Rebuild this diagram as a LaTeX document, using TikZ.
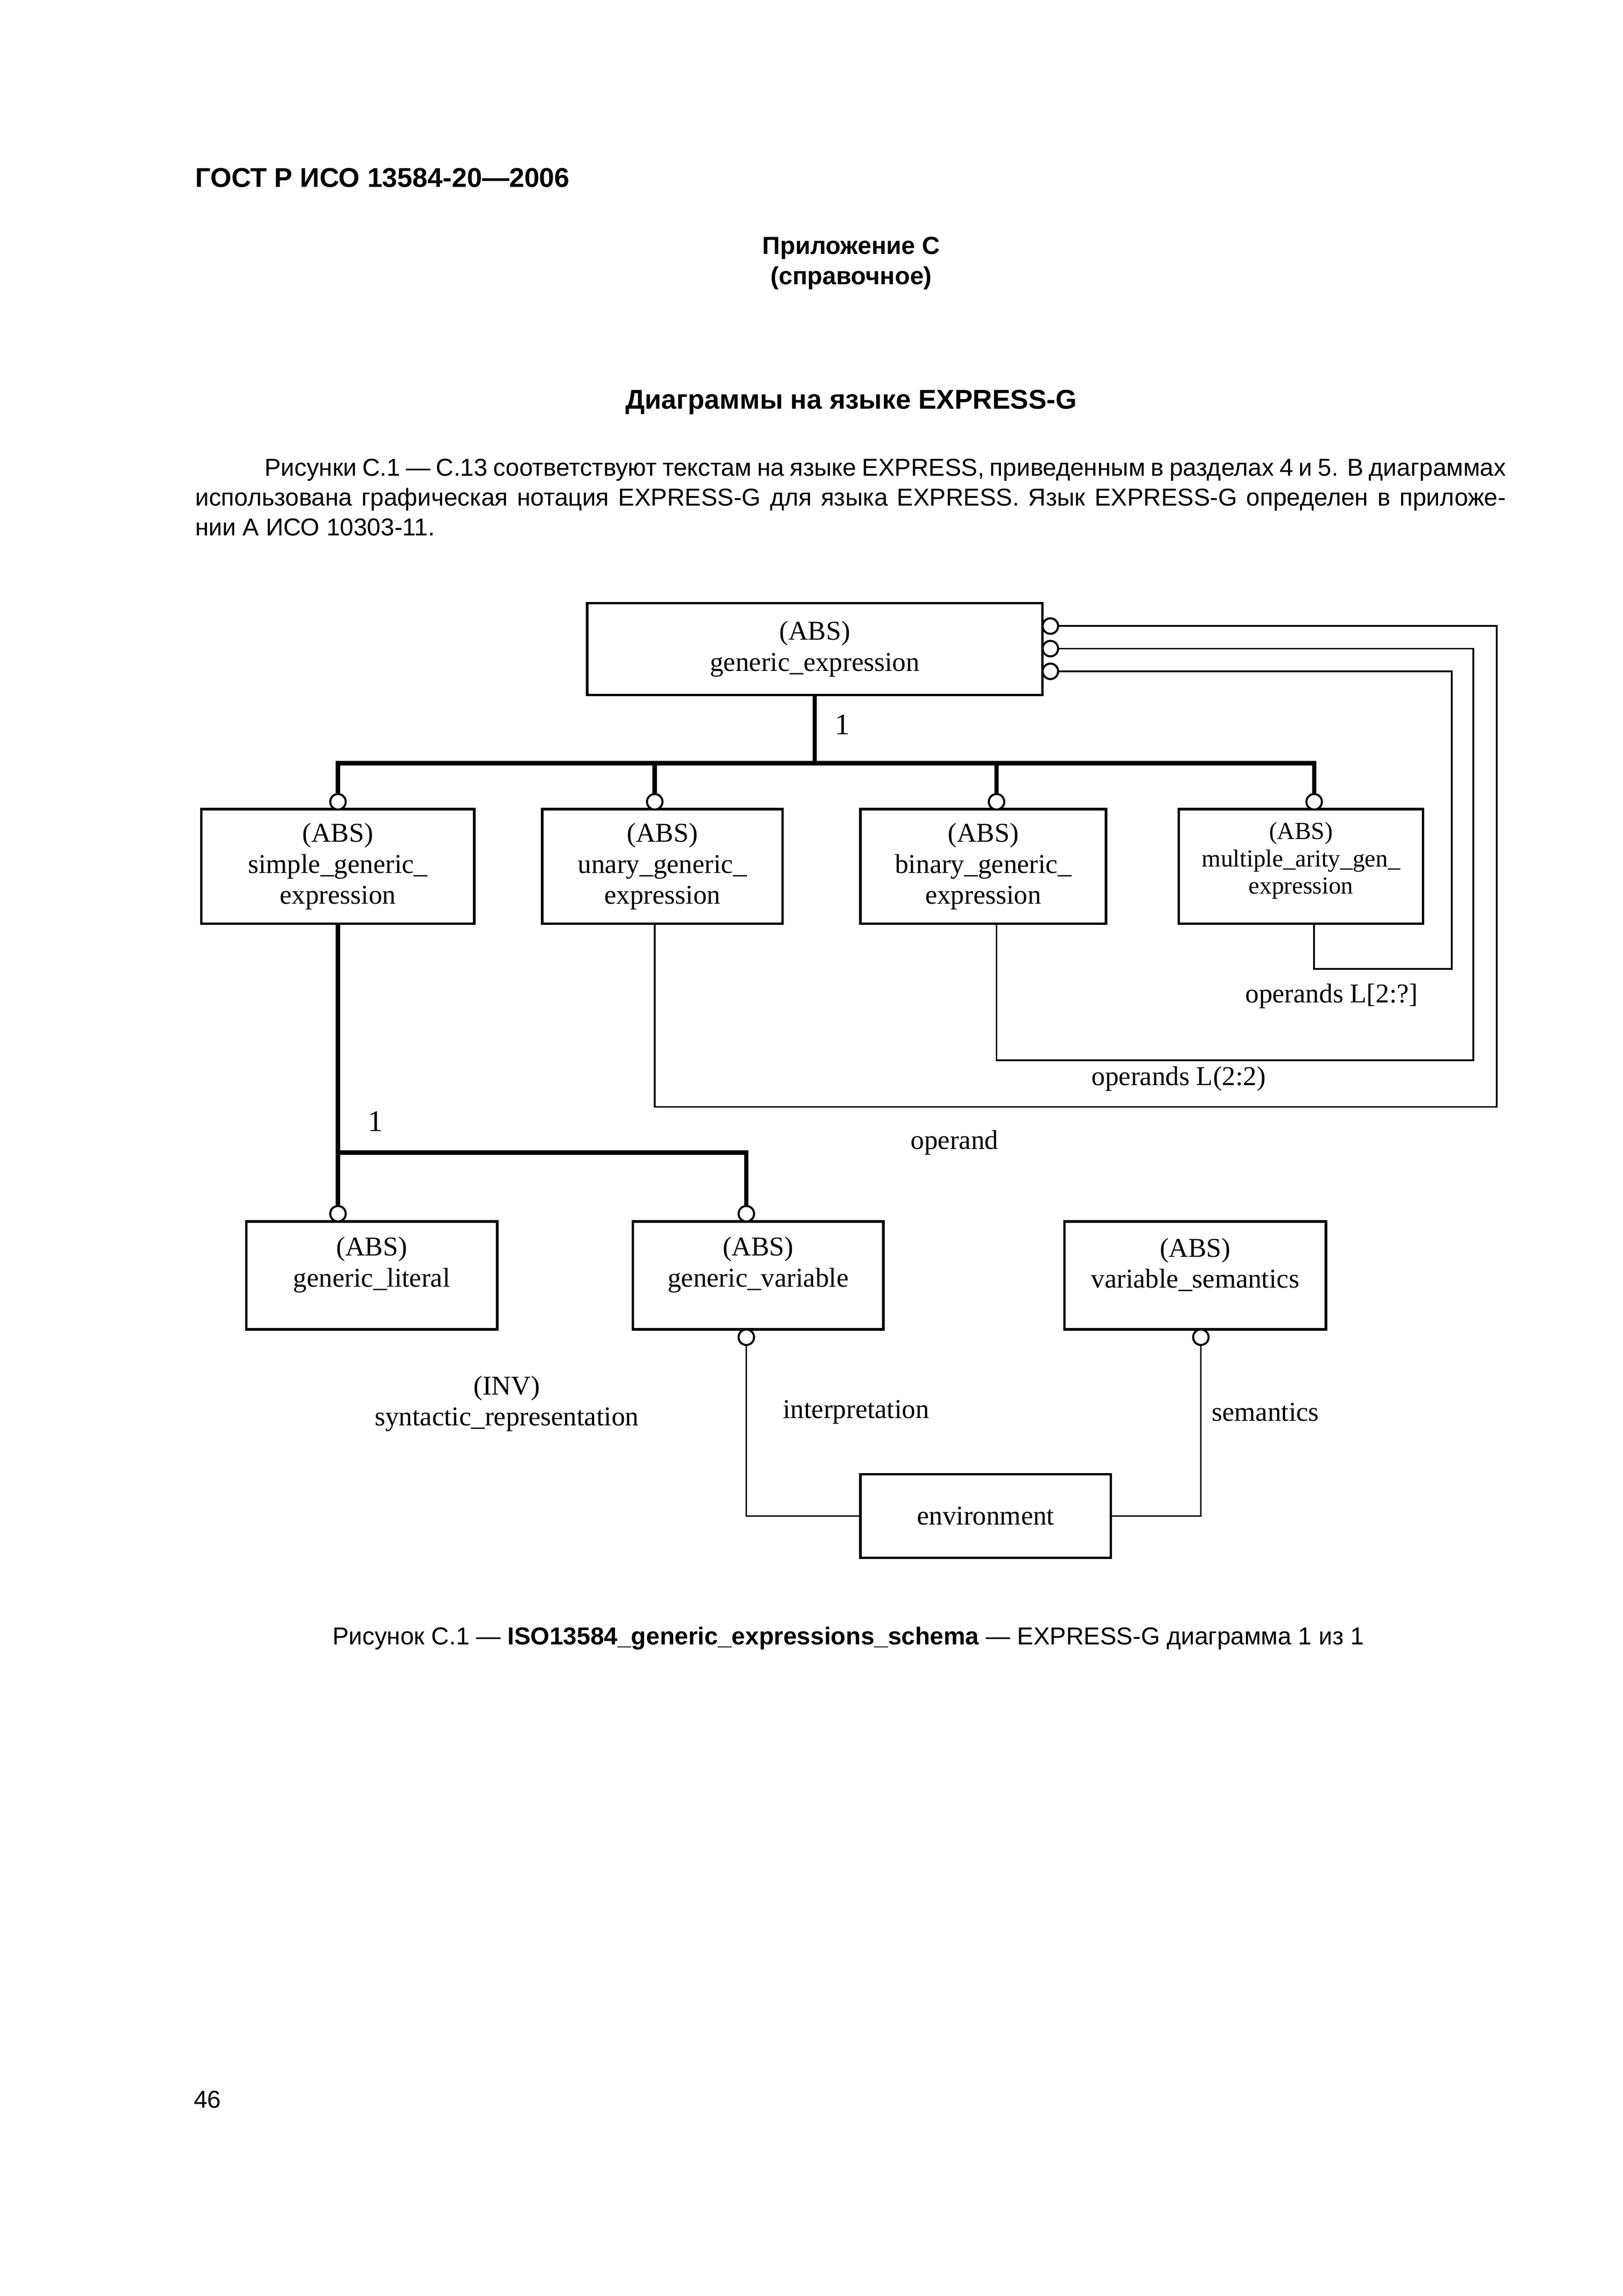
\documentclass[tikz,border=0pt]{standalone}
\usepackage{fontspec}
\setmainfont{Liberation Sans}
\newfontfamily\diag{Liberation Serif}
\newcommand{\upx}{0.0190909cm}
\newcommand{\dfont}{\diag\fontsize{10}{11.4}\selectfont}
\newcommand{\dsmall}{\diag\fontsize{9}{10.1}\selectfont}
\tikzset{
  ent/.style={draw, line width=0.9pt, inner sep=0pt, align=center, font=\dfont},
  circ/.style={circle, draw, line width=0.75pt, fill=white, inner sep=0pt, minimum size={10.5*\upx}},
  thickln/.style={line width=1.6pt, line join=miter},
  thinln/.style={line width=0.65pt, line join=miter},
  lbl/.style={inner sep=0pt, align=center, font=\dfont},
  pagetxt/.style={inner sep=0pt, font=\fontsize{9}{11}\selectfont},
  headtxt/.style={inner sep=0pt, font=\bfseries\fontsize{10}{12}\selectfont},
  subhead/.style={inner sep=0pt, font=\bfseries\fontsize{9.1}{11}\selectfont},
}
\begin{document}
\begin{tikzpicture}[x=0.0190909cm, y=-0.0190909cm]
\path[fill=white] (0,0) rectangle (1100,1556.1);
\useasboundingbox (0,0) rectangle (1100,1556.1);

% page texts
\node[headtxt, anchor=west] (hdr) at (132,120.5) {ГОСТ Р ИСО 13584-20—2006};
\node[subhead] (app) at (577,168) {Приложение С};
\node[subhead] (refr) at (577,188.5) {(справочное)};
\node[headtxt] (ttl) at (577,272.5) {Диаграммы на языке EXPRESS-G};
\node[pagetxt, anchor=north west, text width={888.5*\upx}, align=justify] (para) at (132,310.5)
{\tolerance=9999\hyphenpenalty=10000\exhyphenpenalty=10000\noindent\hspace*{0.897cm}Рисунки С.1 — С.13 соответствуют текстам на языке EXPRESS, приведенным в разделах 4 и 5. В диаграммах\linebreak
использована графическая нотация EXPRESS-G для языка EXPRESS. Язык EXPRESS-G определен в приложе-\linebreak
нии А ИСО 10303-11.};

% entities
\node[ent, minimum width={308.6*\upx}, minimum height={62.3*\upx}] (ge) at (552.3,439.9) {(ABS)\\generic\_expression};
\node[ent, minimum width={185*\upx}, minimum height={77.7*\upx}] (sg) at (229,587.2) {(ABS)\\simple\_generic\_\\expression};
\node[ent, minimum width={163*\upx}, minimum height={77.7*\upx}] (ug) at (449,587.2) {(ABS)\\unary\_generic\_\\expression};
\node[ent, minimum width={166.5*\upx}, minimum height={77.7*\upx}] (bg) at (666.5,587.2) {(ABS)\\binary\_generic\_\\expression};
\node[ent, minimum width={165.6*\upx}, minimum height={77.7*\upx}, font=\dsmall] (mg) at (881.9,587.2) {(ABS)\\multiple\_arity\_gen\_\\expression\\[-4pt]};
\node[ent, minimum width={170*\upx}, minimum height={73.2*\upx}] (gl) at (252,864.4) {};
\node[lbl] (gltxt) at (252,857.2) {(ABS)\\generic\_literal};
\node[ent, minimum width={169.8*\upx}, minimum height={73.2*\upx}] (gv) at (513.9,864.4) {};
\node[lbl] (gvtxt) at (513.9,857.2) {(ABS)\\generic\_variable};
\node[ent, minimum width={177.1*\upx}, minimum height={73.2*\upx}] (vs) at (810.2,864.4) {};
\node[lbl] (vstxt) at (810.2,857.2) {(ABS)\\variable\_semantics};
\node[ent, minimum width={169.8*\upx}, minimum height={56.6*\upx}] (env) at (668.1,1027.5) {environment};

% circles
\node[circ] (gc1) at (712,424.3) {};
\node[circ] (gc2) at (712,439.6) {};
\node[circ] (gc3) at (712,455) {};
\node[circ] (sc) at (229.1,543.4) {};
\node[circ] (uc) at (443.8,543.4) {};
\node[circ] (bc) at (675.5,543.4) {};
\node[circ] (mc) at (890.8,543.4) {};
\node[circ] (lc1) at (229.1,822.6) {};
\node[circ] (lc2) at (505.9,822.6) {};
\node[circ] (gvc) at (505.9,906.3) {};
\node[circ] (vsc) at (814,906.3) {};

% coordinates
\coordinate (bus) at (552.3,517.3);
\coordinate (bus2) at (229.1,781.2);
\coordinate (o1) at (1014.5,750.2);
\coordinate (o2) at (998.6,718.5);
\coordinate (o3) at (984,656.7);

% supertype trees
\draw[thickln] (ge.south) -- (bus);
\draw[thickln] (sc.north) -- (sc |- bus) -- (mc |- bus) -- (mc.north);
\draw[thickln] (uc.north) -- (uc |- bus);
\draw[thickln] (bc.north) -- (bc |- bus);
\draw[thickln] (lc1 |- sg.south) -- (lc1.north);
\draw[thickln] (bus2) -- (lc2 |- bus2) -- (lc2.north);

% attribute relations
\draw[thinln] (gc1.east) -| (o1) -| (uc |- ug.south);
\draw[thinln] (gc2.east) -| (o2) -| (bc |- bg.south);
\draw[thinln] (gc3.east) -| (o3) -| (mc |- mg.south);
\draw[thinln] (gvc.south) |- (env.west);
\draw[thinln] (vsc.south) |- (env.east);

% labels
\node[lbl, font=\diag\fontsize{11}{12}\selectfont] (one1) at (571,491) {1};
\node[lbl, font=\diag\fontsize{11}{12}\selectfont] (one2) at (254.5,760) {1};
\node[lbl] (opq) at (902.7,675) {operands L[2:?]};
\node[lbl] (op22) at (799,731) {operands L(2:2)};
\node[lbl] (op) at (647,774.5) {operand};
\node[lbl] (inv) at (343.5,951.3) {(INV)\\syntactic\_representation};
\node[lbl] (interp) at (580.3,957) {interpretation};
\node[lbl] (sem) at (857.8,957) {semantics};

% caption and page number
\node[pagetxt] (cap) at (575,1110.5) {Рисунок С.1 — \textbf{ISO13584\_generic\_expressions\_schema} — EXPRESS-G диаграмма 1 из 1};
\node[pagetxt, anchor=west] (pg) at (131,1423) {46};
\end{tikzpicture}
\end{document}
